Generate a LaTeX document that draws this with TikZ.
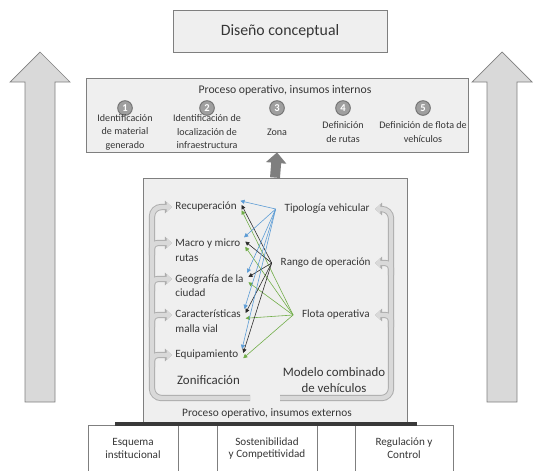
\documentclass[tikz,border=0pt]{standalone}
\usepackage{fontspec}
\setmainfont{Carlito}
\usetikzlibrary{arrows.meta,positioning}

\definecolor{cajafondo}{HTML}{EFEFEF}
\definecolor{cajaborde}{HTML}{7F7F7F}
\definecolor{flechagris}{HTML}{D9D9D9}
\definecolor{azul}{HTML}{5B9BD5}
\definecolor{oscuro}{HTML}{2B2B2B}
\definecolor{verde}{HTML}{70AD47}
\definecolor{texto}{HTML}{363636}

\tikzset{
  caja/.style={draw=cajaborde, fill=cajafondo, line width=0.7pt, inner sep=0pt},
  cajablanca/.style={draw=cajaborde, fill=white, line width=0.6pt, inner sep=0pt, align=center,
    text=texto, font=\fontsize{9.5}{11}\selectfont},
  num/.style={circle, draw=gray!90!black, fill=gray!75, text=white, inner sep=0pt, minimum size=12.5pt,
    line width=0.8pt, font=\fontsize{9}{9}\selectfont\bfseries},
  item/.style={align=center, text=texto, font=\fontsize{8.6}{11.5}\selectfont},
  etiqueta/.style={align=left, inner sep=1pt, text=texto, font=\fontsize{9.5}{12.5}\selectfont},
  enlace/.style={line width=0.5pt, -{Triangle[width=3.5pt,length=3.5pt]}},
  tubo/.style={draw=gray!30, line width=3.8pt, -{Triangle[width=8pt,length=4.5pt]}},
  tuboborde/.style={draw=gray!65, line width=5.4pt, -{Triangle[width=10.5pt,length=6pt]}},
}

% tubos grises de los dos grupos
\newcommand\tubos[1]{%
  \foreach \yy in {243,279,315,355}{\draw[#1, rounded corners=5pt] (152,\yy+12) |- (172,\yy);}
  \draw[#1, rounded corners=8pt] (250,398) -| (152,207) -- (172,207);
  \foreach \yy in {263,315}{\draw[#1, rounded corners=5pt] (391,\yy+12) |- (375,\yy);}
  \draw[#1, rounded corners=8pt] (280,398) -| (391,209) -- (375,209);
}

\begin{document}
\begin{tikzpicture}[x=0.03cm, y=-0.03cm]
\path[use as bounding box, clip] (0,0) rectangle (537,470);

% flechas laterales
\draw[cajaborde, fill=flechagris, line width=0.6pt] (25,402) -- (25,82) -- (10,82) -- (40,52)
  -- (70,82) -- (55,82) -- (55,402) -- cycle;
\draw[cajaborde, fill=flechagris, line width=0.6pt] (487,402) -- (487,82) -- (472,82) -- (502,52)
  -- (532,82) -- (517,82) -- (517,402) -- cycle;

% cajas principales
\node[caja, minimum width=6.42cm, minimum height=1.26cm, text=texto,
  font=\fontsize{13.5}{13.5}\selectfont] (diseno) at (280,31) {Diseño conceptual};
\node[caja, minimum width=11.46cm, minimum height=2.22cm] (internos) at (277,115) {};
\node[text=texto, font=\fontsize{10}{10}\selectfont] (titint) at (285,90) {Proceso operativo, insumos internos};
\foreach \x/\n/\t in {125/1/{Identificación\\de material\\generado},
    207/2/{Identificación de\\localización de\\infraestructura}, 277/3/{Zona},
    343/4/{Definición\\de rutas}, 423/5/{Definición de flota de\\vehículos}}{
  \node[num] (n\n) at (\x,108) {\n};
  \node[item] (p\n) at (\x,132) {\t};
}

\node[caja, minimum width=7.92cm, minimum height=7.35cm] (principal) at (275,300.5) {};
\draw[line width=8.5pt, draw=cajaborde, -{Triangle[width=17pt,length=9pt]}]
  (principal.north) -- (internos.south);

% cajas de abajo
\node[cajablanca, minimum width=2.7cm, minimum height=1.41cm] (esquema) at (133,448.5) {Esquema\\institucional};
\node[cajablanca, minimum width=3.0cm, minimum height=1.41cm] (sosten) at (267,448.5) {Sostenibilidad\\y Competitividad};
\node[cajablanca, minimum width=2.94cm, minimum height=1.41cm] (regul) at (404,448.5) {Regulación y\\Control};
\node[text=texto, font=\fontsize{9.7}{9.7}\selectfont] (externos) at (267,413) {Proceso operativo, insumos externos};
\draw[line width=3.5pt, draw=gray!45!black] (115,424) -- (417,424);

\tubos{tuboborde}
\tubos{tubo}

% etiquetas
\node[etiqueta, anchor=west] (rec) at (174,207) {Recuperación};
\node[etiqueta, anchor=west] (macro) at (174,250) {Macro y micro\\rutas};
\node[etiqueta, anchor=west] (geo) at (174,285.5) {Geografía de la\\ciudad};
\node[etiqueta, anchor=west] (carac) at (174,321.5) {Características\\malla vial};
\node[etiqueta, anchor=west] (equip) at (174,355) {Equipamiento};
\node[text=texto, anchor=west, font=\fontsize{11}{11}\selectfont] (zon) at (173,380) {Zonificación};
\node[etiqueta, anchor=east] (tipo) at (371,209) {Tipología vehicular};
\node[etiqueta, anchor=east] (rango) at (372,263) {Rango de operación};
\node[etiqueta, anchor=east] (flota) at (371,315) {Flota operativa};
\node[text=texto, align=center, font=\fontsize{11}{13}\selectfont] (modelo) at (334,380) {Modelo combinado\\de vehículos};

% enlaces
\foreach \t in {rec,macro,geo,carac,equip}{
  \draw[enlace, azul] ([xshift=-6.5pt]tipo.west) -- ([xshift=2pt]\t.north east);
  \draw[enlace, oscuro] ([xshift=-6.5pt]rango.west) -- ([xshift=3pt,yshift=-3.5pt]\t.north east);
  \draw[enlace, verde] ([xshift=-6.5pt]flota.west) -- ([xshift=3pt,yshift=-8pt]\t.north east);
}
\end{tikzpicture}
\end{document}
